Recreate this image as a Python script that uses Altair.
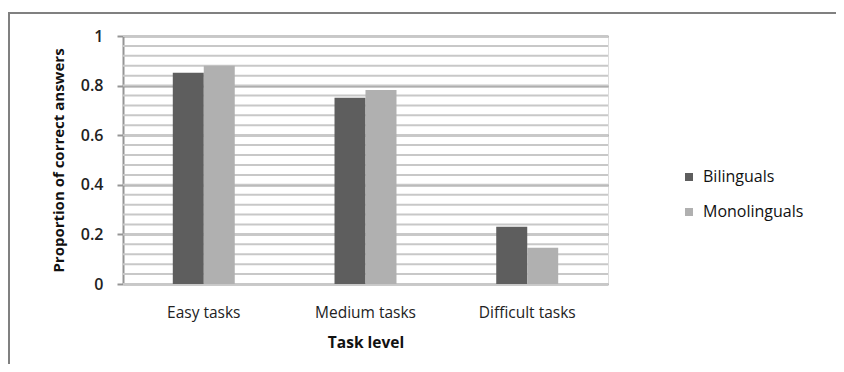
import altair as alt
import pandas as pd

tasks = ["Easy tasks", "Medium tasks", "Difficult tasks"]
groups = ["Bilinguals", "Monolinguals"]
bilinguals = [0.852, 0.751, 0.231]
monolinguals = [0.880, 0.782, 0.146]
major_ticks = [0, 0.2, 0.4, 0.6, 0.8, 1]
minor_ticks = [round(i * 0.04, 2) for i in range(26)]
colors = ["#5e5e5e", "#b0b0b0"]

rows = []
for t, b, m in zip(tasks, bilinguals, monolinguals):
    rows.append({"task": t, "group": groups[0], "value": b})
    rows.append({"task": t, "group": groups[1], "value": m})
df = pd.DataFrame(rows)

FONT = "Open Sans"
W, H = 485, 248

xenc = alt.X("task:N", sort=tasks, title="Task level",
             scale=alt.Scale(paddingInner=0.617, paddingOuter=0.308),
             axis=alt.Axis(labelAngle=0, ticks=False, domain=False, labelPadding=21,
                           labelFontSize=15.5, labelColor="#222", labelFont=FONT,
                           titleFont=FONT, titleFontSize=15.5, titleFontWeight="bold",
                           titleColor="#111", titlePadding=15))

yscale = alt.Scale(domain=[0, 1], nice=False)

bars = alt.Chart(df).mark_bar(size=31).encode(
    x=xenc,
    xOffset=alt.XOffset("group:N", sort=groups),
    y=alt.Y("value:Q", scale=yscale, title="Proportion of correct answers",
            axis=alt.Axis(values=major_ticks, grid=True, gridColor="#959595", gridWidth=2,
                          domain=True, domainColor="#959595", domainWidth=2,
                          tickColor="#959595", tickSize=6, tickWidth=2,
                          labelPadding=14, labelFontSize=16, labelColor="#222",
                          labelFont=FONT, labelFontWeight=600,
                          titleFont=FONT, titleFontSize=15, titleFontWeight="bold",
                          titleColor="#111", titlePadding=14,
                          labelExpr="datum.value == 0 ? '0' : datum.value == 1 ? '1' : format(datum.value, '.1f')")),
    color=alt.Color("group:N", sort=groups, scale=alt.Scale(domain=groups, range=colors),
                    legend=alt.Legend(title=None, orient="none", legendX=558, legendY=133,
                                      symbolType="square", symbolSize=64, symbolStrokeWidth=0,
                                      labelFontSize=16, labelFont=FONT, labelColor="#111",
                                      rowPadding=19, labelOffset=6)),
)

minor = alt.Chart(pd.DataFrame({"v": minor_ticks})).mark_rule(
    color="#c8c8c8", strokeWidth=2
).encode(y=alt.Y("v:Q", scale=yscale))

border_left = alt.Chart(pd.DataFrame({"a": [0]})).mark_rule(
    color="#808080", strokeWidth=2
).encode(x=alt.value(-114), y=alt.value(-23), y2=alt.value(400))
border_top = alt.Chart(pd.DataFrame({"a": [0]})).mark_rule(
    color="#808080", strokeWidth=2
).encode(x=alt.value(-115), x2=alt.value(720), y=alt.value(-23))

chart = alt.layer(minor, bars, border_left, border_top).properties(
    width=W, height=H,
    autosize=alt.AutoSizeParams(type="none"),
    padding={"left": 115, "top": 28, "right": 228, "bottom": 80},
).configure_view(stroke=None).configure(background="white")

chart.save("out.html", embed_options={"renderer": "svg", "actions": False})
